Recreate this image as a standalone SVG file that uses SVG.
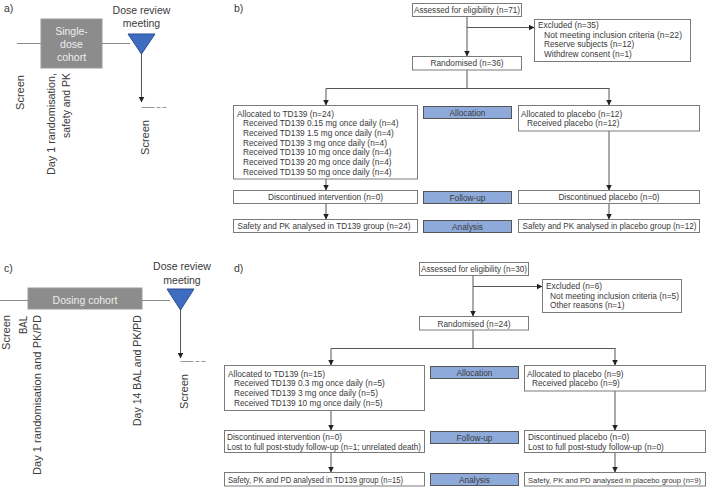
<svg xmlns="http://www.w3.org/2000/svg" width="709" height="489" viewBox="0 0 709 489">
<defs>
<marker id="ah" markerUnits="userSpaceOnUse" markerWidth="6" markerHeight="6" refX="5.5" refY="3" orient="auto">
<path d="M0,0 L6,3 L0,6 z" fill="#222"/>
</marker>
<style>
text{font-family:"Liberation Sans",Arial,sans-serif;fill:#3a3a3a}
.t{font-size:8.3px}
.c{text-anchor:middle}
.big{font-size:10.5px}
.lab{font-size:10.5px}
.rot{font-size:10.5px;text-anchor:end}
.box{fill:#fff;stroke:#7a7a7a;stroke-width:1}
.blue{fill:#8eaadb;stroke:#555;stroke-width:1}
.cohort{fill:#8c8c8c;stroke:#9a9a9a;stroke-width:1}
.ct{fill:#ececec;font-size:10.5px;text-anchor:middle}
.tl{stroke:#8a8a8a;stroke-width:1;fill:none}
.ln{stroke:#555;stroke-width:1;fill:none}
.tri{fill:#3d6cc0;stroke:#2b4f90;stroke-width:1}
.dash{stroke:#999;stroke-width:1;fill:none;stroke-dasharray:13 2 4 2 4}
</style>
</defs>

<!-- Panel a -->
<g id="panel-a">
<text class="lab" x="4" y="12">a)</text>
<line class="tl" x1="17" y1="43.5" x2="41" y2="43.5"/>
<line class="tl" x1="102" y1="43.5" x2="130" y2="43.5"/>
<g id="a-cohort">
<rect class="cohort" x="41" y="19" width="61" height="49"/>
<text class="ct" x="71.5" y="35">Single-</text>
<text class="ct" x="71.5" y="48">dose</text>
<text class="ct" x="71.5" y="61">cohort</text>
</g>
<g id="a-review">
<polygon class="tri" points="128,34 155,34 141.5,54"/>
<text class="big c" x="141.5" y="13.5">Dose review</text>
<text class="big c" x="141.5" y="26.5">meeting</text>
</g>
<line class="ln" x1="141.5" y1="54" x2="141.5" y2="102" marker-end="url(#ah)"/>
<line class="dash" x1="141.5" y1="107.5" x2="167" y2="107.5"/>
<text class="rot" transform="translate(24,75) rotate(-90)" textLength="35" lengthAdjust="spacingAndGlyphs">Screen</text>
<text class="rot" transform="translate(55,73) rotate(-90)" textLength="102" lengthAdjust="spacingAndGlyphs">Day 1 randomisation,</text>
<text class="rot" transform="translate(69.5,73) rotate(-90)" textLength="65" lengthAdjust="spacingAndGlyphs">safety and PK</text>
<text class="rot" transform="translate(149,120) rotate(-90)" textLength="35" lengthAdjust="spacingAndGlyphs">Screen</text>
</g>

<!-- Panel c -->
<g id="panel-c">
<text class="lab" x="4" y="272">c)</text>
<line class="tl" x1="0" y1="300.5" x2="28" y2="300.5"/>
<line class="tl" x1="142" y1="300.5" x2="170" y2="300.5"/>
<g id="c-cohort">
<rect class="cohort" x="28" y="288" width="114" height="21"/>
<text class="ct" x="85" y="303.5">Dosing cohort</text>
</g>
<g id="c-review">
<polygon class="tri" points="167,289 194,289 180.5,310"/>
<text class="big c" x="182" y="270">Dose review</text>
<text class="big c" x="182" y="283.5">meeting</text>
</g>
<line class="ln" x1="180.5" y1="310" x2="180.5" y2="358" marker-end="url(#ah)"/>
<line class="dash" x1="180.5" y1="361.5" x2="206" y2="361.5"/>
<text class="rot" transform="translate(10,315) rotate(-90)" textLength="35" lengthAdjust="spacingAndGlyphs">Screen</text>
<text class="rot" transform="translate(27,316) rotate(-90)" textLength="18" lengthAdjust="spacingAndGlyphs">BAL</text>
<text class="rot" transform="translate(41,315) rotate(-90)" textLength="160" lengthAdjust="spacingAndGlyphs">Day 1 randomisation and PK/PD</text>
<text class="rot" transform="translate(141,315) rotate(-90)" textLength="111" lengthAdjust="spacingAndGlyphs">Day 14 BAL and PK/PD</text>
<text class="rot" transform="translate(188,374) rotate(-90)" textLength="35" lengthAdjust="spacingAndGlyphs">Screen</text>
</g>

<!-- Panel b -->
<text class="lab" x="234" y="12">b)</text>
<g id="b-connectors">
<path class="ln" d="M467,16.5 V56" marker-end="url(#ah)"/>
<path class="ln" d="M467,27.5 H534" marker-end="url(#ah)"/>
<path class="ln" d="M467,70 V88.5 M326,88.5 H609.5"/>
<path class="ln" d="M326,88.5 V105" marker-end="url(#ah)"/>
<path class="ln" d="M609,88.5 V105" marker-end="url(#ah)"/>
<path class="ln" d="M326,179 V190" marker-end="url(#ah)"/>
<path class="ln" d="M326,203.5 V219" marker-end="url(#ah)"/>
<path class="ln" d="M609,131 V190" marker-end="url(#ah)"/>
<path class="ln" d="M609,203.5 V219" marker-end="url(#ah)"/>
</g>
<g id="b-assessed">
<rect class="box" x="412.5" y="3.5" width="109" height="13"/>
<text class="t c" x="467" y="13" textLength="106" lengthAdjust="spacingAndGlyphs">Assessed for eligibility (n=71)</text>
</g>
<g id="b-excluded">
<rect class="box" x="534.5" y="19.5" width="156" height="42"/>
<text class="t" x="538" y="28">Excluded (n=35)</text>
<text class="t" x="544" y="37.5" textLength="138" lengthAdjust="spacingAndGlyphs">Not meeting inclusion criteria (n=22)</text>
<text class="t" x="544" y="47">Reserve subjects (n=12)</text>
<text class="t" x="544" y="56.5">Withdrew consent (n=1)</text>
</g>
<g id="b-randomised">
<rect class="box" x="412.5" y="56.5" width="109" height="13.5"/>
<text class="t c" x="467" y="66">Randomised (n=36)</text>
</g>
<g id="b-td139-alloc">
<rect class="box" x="233.5" y="105.5" width="184" height="73.5"/>
<text class="t" x="237" y="116.5">Allocated to TD139 (n=24)</text>
<text class="t" x="243" y="126.2">Received TD139 0.15 mg once daily (n=4)</text>
<text class="t" x="243" y="135.9">Received TD139 1.5 mg once daily (n=4)</text>
<text class="t" x="243" y="145.6">Received TD139 3 mg once daily (n=4)</text>
<text class="t" x="243" y="155.3">Received TD139 10 mg once daily (n=4)</text>
<text class="t" x="243" y="165">Received TD139 20 mg once daily (n=4)</text>
<text class="t" x="243" y="174.7">Received TD139 50 mg once daily (n=4)</text>
</g>
<g id="b-allocation">
<rect class="blue" x="423.5" y="106.5" width="88" height="12"/>
<text class="t c" x="467.5" y="115.5">Allocation</text>
</g>
<g id="b-placebo-alloc">
<rect class="box" x="518.5" y="105.5" width="181" height="25.5"/>
<text class="t" x="521" y="116.5">Allocated to placebo (n=12)</text>
<text class="t" x="527" y="126.2">Received placebo (n=12)</text>
</g>
<g id="b-td139-follow">
<rect class="box" x="233.5" y="190.5" width="184" height="13"/>
<text class="t c" x="325.5" y="200">Discontinued intervention (n=0)</text>
</g>
<g id="b-followup">
<rect class="blue" x="423.5" y="191.5" width="88" height="12"/>
<text class="t c" x="467.5" y="200.5">Follow-up</text>
</g>
<g id="b-placebo-follow">
<rect class="box" x="518.5" y="190.5" width="181" height="13"/>
<text class="t c" x="609" y="200">Discontinued placebo (n=0)</text>
</g>
<g id="b-td139-analysis">
<rect class="box" x="233.5" y="219.5" width="184" height="13"/>
<text class="t c" x="324" y="229" textLength="173" lengthAdjust="spacingAndGlyphs">Safety and PK analysed in TD139 group (n=24)</text>
</g>
<g id="b-analysis">
<rect class="blue" x="423.5" y="220.5" width="88" height="12"/>
<text class="t c" x="467.5" y="229.5">Analysis</text>
</g>
<g id="b-placebo-analysis">
<rect class="box" x="518.5" y="219.5" width="181" height="13"/>
<text class="t c" x="609.5" y="229" textLength="174" lengthAdjust="spacingAndGlyphs">Safety and PK analysed in placebo group (n=12)</text>
</g>

<!-- Panel d -->
<text class="lab" x="234" y="272">d)</text>
<g id="d-connectors">
<path class="ln" d="M473,275.5 V316" marker-end="url(#ah)"/>
<path class="ln" d="M473,286.5 H542" marker-end="url(#ah)"/>
<path class="ln" d="M473,330 V348.5 M331,348.5 H615.5"/>
<path class="ln" d="M331,348.5 V365" marker-end="url(#ah)"/>
<path class="ln" d="M615,348.5 V365" marker-end="url(#ah)"/>
<path class="ln" d="M331,410.5 V430" marker-end="url(#ah)"/>
<path class="ln" d="M331,452.5 V472" marker-end="url(#ah)"/>
<path class="ln" d="M615,391 V430" marker-end="url(#ah)"/>
<path class="ln" d="M615,452.5 V472" marker-end="url(#ah)"/>
</g>
<g id="d-assessed">
<rect class="box" x="419.5" y="262.5" width="109" height="13"/>
<text class="t c" x="474" y="272" textLength="106" lengthAdjust="spacingAndGlyphs">Assessed for eligibility (n=30)</text>
</g>
<g id="d-excluded">
<rect class="box" x="542.5" y="279.5" width="139" height="33"/>
<text class="t" x="546" y="289">Excluded (n=6)</text>
<text class="t" x="550" y="298.5" textLength="129" lengthAdjust="spacingAndGlyphs">Not meeting inclusion criteria (n=5)</text>
<text class="t" x="550" y="308">Other reasons (n=1)</text>
</g>
<g id="d-randomised">
<rect class="box" x="419.5" y="316.5" width="109" height="13.5"/>
<text class="t c" x="474" y="326.5">Randomised (n=24)</text>
</g>
<g id="d-td139-alloc">
<rect class="box" x="224.5" y="365.5" width="200" height="45"/>
<text class="t" x="228" y="376.5">Allocated to TD139 (n=15)</text>
<text class="t" x="234" y="386.2">Received TD139 0.3 mg once daily (n=5)</text>
<text class="t" x="234" y="395.9">Received TD139 3 mg once daily (n=5)</text>
<text class="t" x="234" y="405.6">Received TD139 10 mg once daily (n=5)</text>
</g>
<g id="d-allocation">
<rect class="blue" x="430.5" y="366.5" width="88" height="12"/>
<text class="t c" x="474.5" y="375.5">Allocation</text>
</g>
<g id="d-placebo-alloc">
<rect class="box" x="524.5" y="365.5" width="181" height="25.5"/>
<text class="t" x="527" y="376.5">Allocated to placebo (n=9)</text>
<text class="t" x="532" y="386.2">Received placebo (n=9)</text>
</g>
<g id="d-td139-follow">
<rect class="box" x="224.5" y="430.5" width="200" height="22"/>
<text class="t" x="227" y="440">Discontinued intervention (n=0)</text>
<text class="t" x="227" y="449.5" textLength="194" lengthAdjust="spacingAndGlyphs">Lost to full post-study follow-up (n=1; unrelated death)</text>
</g>
<g id="d-followup">
<rect class="blue" x="430.5" y="431.5" width="88" height="12"/>
<text class="t c" x="474.5" y="440.5">Follow-up</text>
</g>
<g id="d-placebo-follow">
<rect class="box" x="524.5" y="430.5" width="181" height="22"/>
<text class="t" x="528" y="440">Discontinued placebo (n=0)</text>
<text class="t" x="528" y="449.5">Lost to full post-study follow-up (n=0)</text>
</g>
<g id="d-td139-analysis">
<rect class="box" x="224.5" y="472.5" width="200" height="13.5"/>
<text class="t" x="228" y="482.5" textLength="175" lengthAdjust="spacingAndGlyphs">Safety, PK and PD analysed in TD139 group (n=15)</text>
</g>
<g id="d-analysis">
<rect class="blue" x="430.5" y="473.5" width="88" height="12"/>
<text class="t c" x="474.5" y="482.5">Analysis</text>
</g>
<g id="d-placebo-analysis">
<rect class="box" x="524.5" y="472.5" width="181" height="13.5"/>
<text x="528" y="482.5" style="font-size:7.6px" textLength="173" lengthAdjust="spacingAndGlyphs">Safety, PK and PD analysed in placebo group (n=9)</text>
</g>
</svg>
